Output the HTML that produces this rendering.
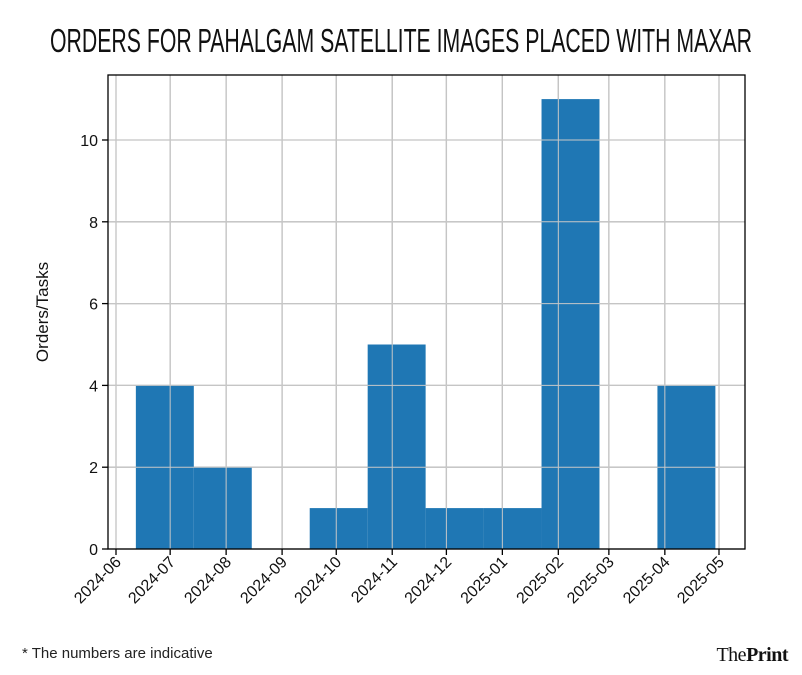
<!DOCTYPE html>
<html><head><meta charset="utf-8"><style>
body{margin:0;background:#fff;width:802px;height:675px;overflow:hidden}
svg{display:block}
</style></head><body>
<svg id="chart" width="802" height="675" xmlns="http://www.w3.org/2000/svg" font-family="Liberation Sans, DejaVu Sans, sans-serif">
<text x="50" y="52" font-size="33" textLength="702" lengthAdjust="spacingAndGlyphs" fill="#111">ORDERS FOR PAHALGAM SATELLITE IMAGES PLACED WITH MAXAR</text>
<g id="grid"></g><g id="bars"></g><g id="axes"></g>
<text transform="translate(48,312) rotate(-90)" text-anchor="middle" font-size="17" fill="#111">Orders/Tasks</text>
<text x="22" y="658" font-size="15" fill="#222">* The numbers are indicative</text>
<text x="788" y="661" text-anchor="end" font-family="Liberation Serif, serif" font-size="20" fill="#111" letter-spacing="-0.5">The<tspan font-weight="bold">Print</tspan></text>
</svg>
<script>
const counts=[4,2,0,1,5,1,1,11,0,4];
const binStart="2024-06-12";
const binWidthDays=32.1;
const tickLabels=["2024-06","2024-07","2024-08","2024-09","2024-10","2024-11","2024-12","2025-01","2025-02","2025-03","2025-04","2025-05"];
const yTicks=[0,2,4,6,8,10];
const NS="http://www.w3.org/2000/svg";
const L=108,R=745,T=75,B=549;
const d0=Date.UTC(2024,5,1),d1=Date.UTC(2025,4,1);
function xd(ms){return 116+(ms-d0)/(d1-d0)*(719-116);}
function xs(s){const p=s.split("-");return xd(Date.UTC(+p[0],+p[1]-1,p[2]?+p[2]:1));}
function y(v){return B-v*(B-140)/10;}
function mk(tag,attrs,parent,name){const e=document.createElementNS(NS,tag);for(const k in attrs)e.setAttribute(k,attrs[k]);


parent.appendChild(e);return e;}
const grid=document.getElementById('grid'),bars=document.getElementById('bars'),axes=document.getElementById('axes');
const startMs=xs(binStart);
const dayPx=(719-116)/((d1-d0)/86400000);
counts.forEach((c,i)=>{if(!c)return;const x0=startMs+i*binWidthDays*dayPx,x1=x0+binWidthDays*dayPx;
mk('rect',{x:x0,y:y(c),width:x1-x0,height:B-y(c),fill:'#1f77b4'},bars,'bar-'+i);});
tickLabels.forEach(t=>{const x=xs(t);
mk('line',{x1:x,x2:x,y1:T,y2:B,stroke:'#b0b0b0','stroke-width':1.3},grid,'x-gridline');
mk('line',{x1:x,x2:x,y1:B,y2:B+6,stroke:'#000','stroke-width':1.3},axes,'x-tick');
const tx=mk('text',{x:0,y:0,'font-size':16,fill:'#111','text-anchor':'end',transform:`translate(${x+6},${B+14}) rotate(-45)`},axes,'x-tick-label');tx.textContent=t;});
yTicks.forEach(v=>{const yy=y(v);
mk('line',{x1:L,x2:R,y1:yy,y2:yy,stroke:'#b0b0b0','stroke-width':1.3},grid,'y-gridline');
mk('line',{x1:L-6,x2:L,y1:yy,y2:yy,stroke:'#000','stroke-width':1.3},axes,'y-tick');
const tx=mk('text',{x:L-10,y:yy+6,'font-size':16,fill:'#111','text-anchor':'end'},axes,'y-tick-label');tx.textContent=v;});
// redraw gridlines over bars (matplotlib-style grid visible on top)
tickLabels.forEach(t=>{const x=xs(t);mk('line',{x1:x,x2:x,y1:T,y2:B,stroke:'#c8c8c8','stroke-width':1},bars,'x-gridline-over');});
yTicks.forEach(v=>{const yy=y(v);mk('line',{x1:L,x2:R,y1:yy,y2:yy,stroke:'#c8c8c8','stroke-width':1},bars,'y-gridline-over');});
mk('rect',{x:L,y:T,width:R-L,height:B-T,fill:'none',stroke:'#000','stroke-width':1.3},axes,'plot-frame');
</script>
</body></html>
